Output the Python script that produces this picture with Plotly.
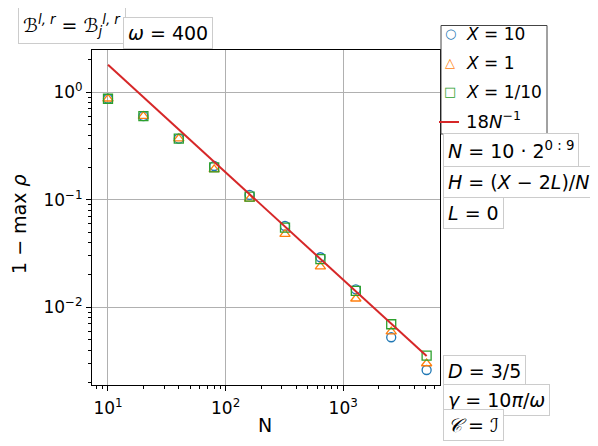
import plotly.graph_objs as go

# data
N = [10, 20, 40, 80, 160, 320, 640, 1280, 2560, 5120]
rho_x10 = [0.87, 0.60, 0.37, 0.206, 0.111, 0.057, 0.0292, 0.0147, 0.00526, 0.00261]
rho_x1 = [0.87, 0.60, 0.37, 0.192, 0.102, 0.048, 0.0239, 0.0120, 0.00593, 0.0030]
rho_x01 = [0.87, 0.60, 0.37, 0.200, 0.107, 0.055, 0.0280, 0.0142, 0.00695, 0.00355]
fit_N = [10, 5120]
fit_y = [1.8, 0.00352]

x_ticks = [10, 100, 1000]
x_ticktext = ["10<sup>1</sup>", "10<sup>2</sup>", "10<sup>3</sup>"]
y_ticks = [1, 0.1, 0.01]
y_ticktext = ["10<sup>0</sup>", "10<sup>−1</sup>", "10<sup>−2</sup>"]

FONT = "DejaVu Sans"
x_minor = [m * 10 ** k for k in range(0, 4) for m in range(2, 10)]
y_minor = [m * 10.0 ** k for k in range(-3, 1) for m in range(2, 10)]

# plot area in window pixels; the html page adds an 8px body margin
PAGE = 8
L, T, W, H = 92, 50, 348, 335
FIG_W, FIG_H = 598 - PAGE, 446 - PAGE


def px(x):
    return (x - L) / W


def py(y):
    return (T + H - y) / H


fig = go.Figure()

series = [
    ("<i>X</i> = 10", rho_x10, "circle-open", "○", "#1f77b4"),
    ("<i>X</i> = 1", rho_x1, "triangle-up-open", "△", "#ff7f0e"),
    ("<i>X</i> = 1/10", rho_x01, "square-open", "□", "#2ca02c"),
]
for name, vals, sym, glyph, col in series:
    fig.add_trace(
        go.Scatter(
            x=N,
            y=vals,
            mode="markers",
            name=name,
            marker=dict(symbol=sym, size=9, color=col, line=dict(width=1.3, color=col)),
        )
    )

fig.add_trace(
    go.Scatter(
        x=fit_N,
        y=fit_y,
        mode="lines",
        name="18<i>N</i><sup>−1</sup>",
        line=dict(color="#d62728", width=2),
    )
)

axis_style = dict(
    type="log",
    showline=True,
    linecolor="black",
    linewidth=1,
    mirror=True,
    ticks="outside",
    ticklen=5,
    tickcolor="black",
    showgrid=True,
    gridcolor="#b0b0b0",
    gridwidth=1,
    zeroline=False,
    tickfont=dict(family=FONT, size=17, color="black"),
)

fig.update_xaxes(
    **axis_style,
    range=[0.864, 3.823],
    tickmode="array",
    tickvals=x_ticks,
    ticktext=x_ticktext,
    ticklabelstandoff=3,
    minor=dict(tickmode="array", tickvals=x_minor, ticks="outside", ticklen=3,
               tickcolor="black", showgrid=False),
)
fig.update_yaxes(
    **axis_style,
    range=[-2.723, 0.393],
    tickmode="array",
    tickvals=y_ticks,
    ticktext=y_ticktext,
    minor=dict(tickmode="array", tickvals=y_minor, ticks="outside", ticklen=3,
               tickcolor="black", showgrid=False),
)

boxes = [
    ("ℬ<sup><i>l, r</i></sup> = ℬ<sub><i>j</i></sub><sup><i>l, r</i></sup>", 71.5, 26, "center"),
    ("<i>ω</i> = 400", 168, 33, "center"),
    ("<i>N</i> = 10 · 2<sup>0 : 9</sup>", 443, 150, "left"),
    ("<i>H</i> = (<i>X</i> − 2<i>L</i>)/<i>N</i>", 443, 182, "left"),
    ("<i>L</i> = 0", 443, 213, "left"),
    ("<i>D</i> = 3/5", 443, 371, "left"),
    ("<i>γ</i> = 10<i>π</i>/<i>ω</i>", 443, 400, "left"),
    ("<i>𝒞</i> = <i>ℐ</i>", 443, 425, "left"),
]
for text, bx, by, anchor in boxes:
    fig.add_annotation(
        text=text,
        x=px(bx),
        y=py(by),
        xref="paper",
        yref="paper",
        xanchor=anchor,
        yanchor="middle",
        showarrow=False,
        font=dict(family=FONT, size=19, color="black"),
        bgcolor="white",
        bordercolor="#cccccc",
        borderwidth=1,
        borderpad=4,
    )

# legend drawn by hand so the frame is as narrow as the reference one
fig.add_shape(type="rect", xref="paper", yref="paper",
              x0=px(441), x1=px(547), y0=py(134), y1=py(25.5),
              line=dict(color="#444444", width=1), fillcolor="white", layer="above")
legend_rows = [34, 63, 92]
for (name, vals, sym, glyph, col), ry in zip(series, legend_rows):
    fig.add_annotation(text=glyph, x=px(450), y=py(ry), xref="paper", yref="paper",
                       xanchor="center", yanchor="middle", showarrow=False,
                       font=dict(family=FONT, size=13, color=col))
    fig.add_annotation(text=name, x=px(464), y=py(ry), xref="paper", yref="paper",
                       xanchor="left", yanchor="middle", showarrow=False,
                       font=dict(family=FONT, size=17, color="black"))
fig.add_shape(type="line", xref="paper", yref="paper",
              x0=px(439), x1=px(459), y0=py(122), y1=py(122),
              line=dict(color="#d62728", width=2), layer="above")
fig.add_annotation(text="18<i>N</i><sup>−1</sup>", x=px(464), y=py(120), xref="paper", yref="paper",
                   xanchor="left", yanchor="middle", showarrow=False,
                   font=dict(family=FONT, size=18, color="black"))

# axis titles
fig.add_annotation(text="N", x=px(265), y=py(425), xref="paper", yref="paper",
                   xanchor="center", yanchor="middle",
                   showarrow=False, font=dict(family=FONT, size=19, color="black"))
fig.add_annotation(text="1 − max <i>ρ</i>", x=px(19), y=py(224), xref="paper", yref="paper",
                   xanchor="center", yanchor="middle",
                   textangle=-90, showarrow=False,
                   font=dict(family=FONT, size=19, color="black"))

fig.update_layout(
    width=FIG_W,
    height=FIG_H,
    margin=dict(l=L - PAGE, r=FIG_W - (L - PAGE) - W, t=T - PAGE, b=FIG_H - (T - PAGE) - H),
    paper_bgcolor="white",
    plot_bgcolor="white",
    font=dict(family=FONT, size=18, color="black"),
    showlegend=False,
)

fig.write_html("out.html")
